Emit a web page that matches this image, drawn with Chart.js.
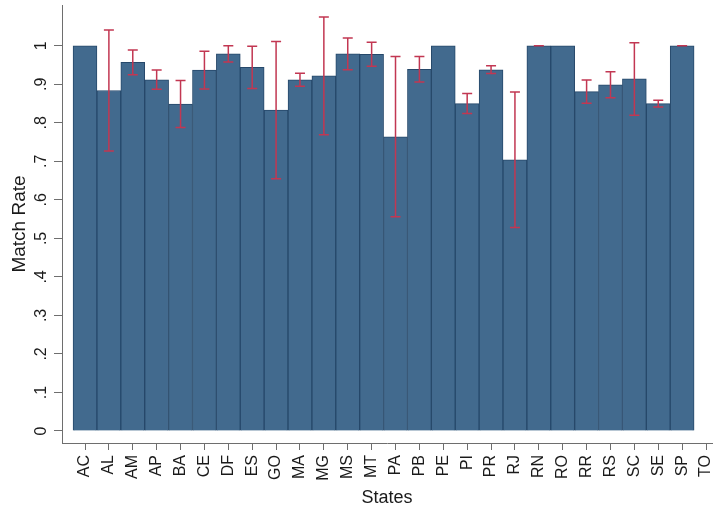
<!DOCTYPE html>
<html>
<head>
<meta charset="utf-8">
<script src="https://cdn.jsdelivr.net/npm/chart.js@4/dist/chart.umd.min.js"></script>
<style>
  html, body { margin: 0; padding: 0; background: #ffffff; overflow: hidden; }
  #wrap { width: 714px; height: 512px; position: relative; }
</style>
</head>
<body>
<div id="wrap"><canvas id="c" width="714" height="512"></canvas></div>
<script>
// State codes along the x axis
const states = ['AC','AL','AM','AP','BA','CE','DF','ES','GO','MA','MG','MS','MT','PA',
                'PB','PE','PI','PR','RJ','RN','RO','RR','RS','SC','SE','SP','TO'];

// Mean match rate per state (TO has no observations)
const matchRate = [1.000, 0.884, 0.957, 0.912, 0.849, 0.937, 0.979, 0.944, 0.833, 0.912,
                   0.922, 0.979, 0.978, 0.764, 0.939, 1.000, 0.850, 0.938, 0.704, 1.000,
                   1.000, 0.881, 0.899, 0.914, 0.850, 1.000, null];

// Half-width of the confidence interval (null = no interval drawn)
const ciHalf = [null, 0.157, 0.032, 0.025, 0.061, 0.049, 0.021, 0.055, 0.178, 0.017,
                0.153, 0.041, 0.031, 0.208, 0.033, null, 0.026, 0.010, 0.176, 0.000,
                null, 0.030, 0.034, 0.094, 0.009, 0.000, null];

// y-axis tick values
const yTicks = [0, 0.1, 0.2, 0.3, 0.4, 0.5, 0.6, 0.7, 0.8, 0.9, 1];

const fmtTick = v => {
  if (Math.abs(v) < 1e-9) return '0';
  if (Math.abs(v - 1) < 1e-9) return '1';
  return '.' + Math.round(v * 10);
};

const axisColor = '#6e6e6e';
const fontFamily = '"Liberation Sans", Arial, sans-serif';
const tickFont = { family: fontFamily, size: 16 };

// Error bars drawn on top of the bars, positioned with the chart scales
const errorBars = {
  id: 'errorBars',
  afterDatasetsDraw(chart) {
    const { ctx, scales: { x, y } } = chart;
    ctx.save();
    ctx.strokeStyle = '#c23752';
    ctx.lineWidth = 1.5;
    const cap = 5;
    matchRate.forEach((v, i) => {
      const h = ciHalf[i];
      if (v === null || h === null) return;
      const px = x.getPixelForValue(i);
      const top = y.getPixelForValue(v + h);
      const bot = y.getPixelForValue(v - h);
      ctx.beginPath();
      ctx.moveTo(px, top); ctx.lineTo(px, bot);
      ctx.moveTo(px - cap, top); ctx.lineTo(px + cap, top);
      ctx.moveTo(px - cap, bot); ctx.lineTo(px + cap, bot);
      ctx.stroke();
    });
    ctx.restore();
  }
};

new Chart(document.getElementById('c'), {
  type: 'bar',
  data: {
    datasets: [{
      data: matchRate.map((v, i) => ({ x: i, y: v })),
      backgroundColor: 'rgb(66,106,142)',
      borderColor: 'rgb(38,72,106)',
      borderWidth: 1,
      barPercentage: 1,
      categoryPercentage: 1
    }]
  },
  options: {
    responsive: false,
    animation: false,
    layout: { padding: { top: 5, right: 2, left: 0, bottom: 0 } },
    plugins: { legend: { display: false }, tooltip: { enabled: false } },
    scales: {
      x: {
        type: 'linear',
        offset: false,
        min: -0.963,
        max: 26.25,
        afterBuildTicks(scale) {
          scale.ticks = states.map((s, i) => ({ value: i }));
        },
        afterFit(scale) {
          scale.height = 69;
          scale.paddingLeft = 0;
          scale.paddingRight = 0;
        },
        grid: { display: true, offset: false, drawOnChartArea: false, tickLength: 7, color: axisColor, tickWidth: 1 },
        border: { display: true, color: axisColor, width: 1 },
        ticks: {
          autoSkip: false,
          minRotation: 90,
          maxRotation: 90,
          padding: 5,
          color: '#1a1a1a',
          font: tickFont,
          callback: (v) => states[Math.round(v)] ?? ''
        },
        title: {
          display: true,
          text: 'States',
          color: '#1a1a1a',
          font: { family: fontFamily, size: 18 },
          padding: { top: 0, bottom: 3 }
        }
      },
      y: {
        type: 'linear',
        min: -0.0312,
        max: 1.106,
        afterBuildTicks(scale) {
          scale.ticks = yTicks.map(v => ({ value: v }));
        },
        afterFit(scale) {
          scale.width = 62;
          scale.paddingTop = 0;
          scale.paddingBottom = 0;
        },
        grid: { display: true, drawOnChartArea: false, tickLength: 8, color: axisColor, tickWidth: 1 },
        border: { display: true, color: axisColor, width: 1 },
        ticks: {
          minRotation: 90,
          maxRotation: 90,
          crossAlign: 'center',
          padding: 6,
          color: '#1a1a1a',
          font: tickFont,
          callback: (v) => fmtTick(v)
        },
        title: {
          display: true,
          text: 'Match Rate',
          color: '#1a1a1a',
          font: { family: fontFamily, size: 19 },
          padding: { top: 8, bottom: 0 }
        }
      }
    }
  },
  plugins: [errorBars]
});
</script>
</body>
</html>
